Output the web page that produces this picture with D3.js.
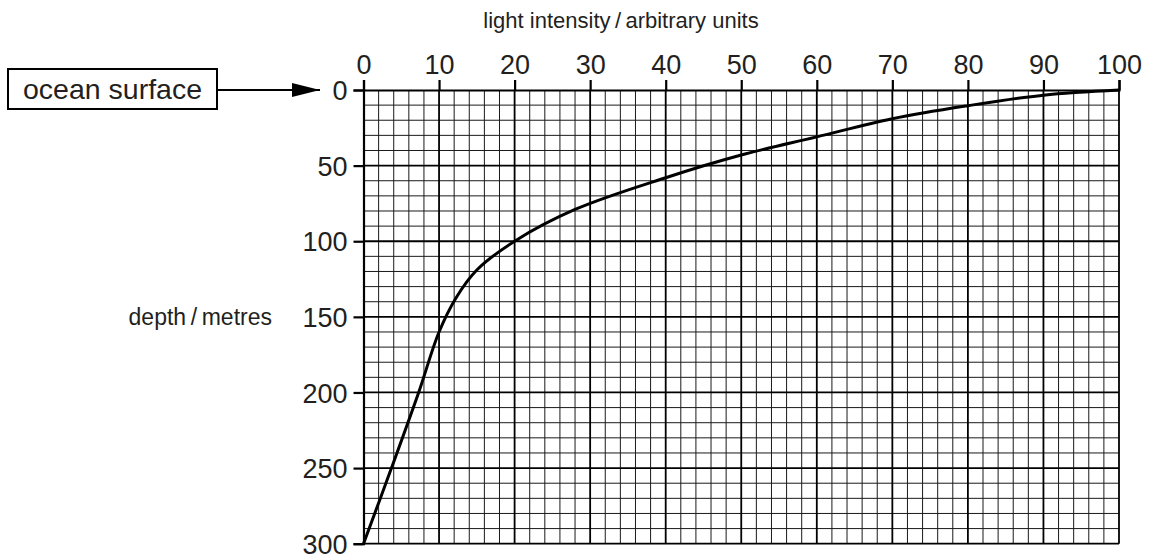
<!DOCTYPE html>
<html>
<head>
<meta charset="utf-8">
<script src="https://cdn.jsdelivr.net/npm/d3@7"></script>
<style>
  body { margin: 0; background: #fff; }
  text { font-family: "Liberation Sans", Arial, sans-serif; fill: #231f20; }
</style>
</head>
<body>
<div id="chart"></div>
<script>
// light intensity (x) against depth (y)
var intensity = [0, 3.7, 7.3, 10, 12.3, 15, 20, 28, 40, 50, 60, 70, 80, 90, 100];
var depth = [300, 250, 200, 160, 137, 119, 100, 79, 58, 43, 31, 19, 10.4, 3.4, 0];

var xTicks = [0, 10, 20, 30, 40, 50, 60, 70, 80, 90, 100];
var yTicks = [0, 50, 100, 150, 200, 250, 300];

var svgWidth = 1150;
var svgHeight = 559;

var margin = { top: 90, left: 363.5 };
var width = 755.5;
var height = 453.7;

var svg = d3.select("#chart")
  .append("svg")
  .attr("width", svgWidth)
  .attr("height", svgHeight);

var chartGroup = svg.append("g")
  .attr("transform", `translate(${margin.left}, ${margin.top})`);

var xScale = d3.scaleLinear().domain([0, 100]).range([0, width]);
var yScale = d3.scaleLinear().domain([0, 300]).range([0, height]);

// graph paper: minor every 2 units / 10 m, major every 10 / 50
var minorX = d3.range(2, 100, 2).filter(d => d % 10 !== 0);
var minorY = d3.range(10, 300, 10).filter(d => d % 50 !== 0);

chartGroup.selectAll(".minor-x")
  .data(minorX)
  .enter()
  .append("line")
  .attr("x1", d => xScale(d)).attr("x2", d => xScale(d))
  .attr("y1", 0).attr("y2", height)
  .attr("stroke", "#1a1a1a")
  .attr("stroke-width", 1);

chartGroup.selectAll(".minor-y")
  .data(minorY)
  .enter()
  .append("line")
  .attr("x1", 0).attr("x2", width)
  .attr("y1", d => yScale(d)).attr("y2", d => yScale(d))
  .attr("stroke", "#1a1a1a")
  .attr("stroke-width", 1);

chartGroup.selectAll(".major-x")
  .data(xTicks.slice(1))
  .enter()
  .append("line")
  .attr("x1", d => xScale(d)).attr("x2", d => xScale(d))
  .attr("y1", 0).attr("y2", height)
  .attr("stroke", "#000")
  .attr("stroke-width", 1.8);

chartGroup.selectAll(".major-y")
  .data(yTicks.slice(1))
  .enter()
  .append("line")
  .attr("x1", 0).attr("x2", width)
  .attr("y1", d => yScale(d)).attr("y2", d => yScale(d))
  .attr("stroke", "#000")
  .attr("stroke-width", 1.8);

// axes along top and left
var topAxis = d3.axisTop(xScale)
  .tickValues(xTicks)
  .tickSize(10)
  .tickPadding(6)
  .tickFormat(d3.format("d"));

var leftAxis = d3.axisLeft(yScale)
  .tickValues(yTicks)
  .tickSize(10)
  .tickPadding(6)
  .tickFormat(d3.format("d"));

var xAxis = chartGroup.append("g").call(topAxis);
var yAxis = chartGroup.append("g").call(leftAxis);

[xAxis, yAxis].forEach(function (ax) {
  ax.select(".domain").attr("stroke", "#000").attr("stroke-width", 2.2);
  ax.selectAll(".tick line").attr("stroke", "#000").attr("stroke-width", 2.2);
  ax.selectAll(".tick text")
    .attr("fill", "#231f20")
    .style("font-size", "27px")
    .style("font-family", "'Liberation Sans', Arial, sans-serif");
});
yAxis.selectAll(".tick text").attr("dy", "0.36em");

// curve
var points = intensity.map((v, i) => [v, depth[i]]);
var line = d3.line()
  .x(d => xScale(d[0]))
  .y(d => yScale(d[1]))
  .curve(d3.curveCatmullRom.alpha(0.5));

chartGroup.append("path")
  .datum(points)
  .attr("d", line)
  .attr("fill", "none")
  .attr("stroke", "#000")
  .attr("stroke-width", 3)
  .attr("stroke-linejoin", "round");

// axis titles
svg.append("text")
  .attr("x", 621)
  .attr("y", 28)
  .attr("text-anchor", "middle")
  .style("font-size", "22px")
  .text("light intensity\u2009/\u2009arbitrary units");

svg.append("text")
  .attr("x", 272)
  .attr("y", yScale(150) + margin.top + 8)
  .attr("text-anchor", "end")
  .style("font-size", "23px")
  .text("depth\u2009/\u2009metres");

// ocean surface label with arrow
svg.append("defs").append("marker")
  .attr("id", "head")
  .attr("viewBox", "0 0 28 14")
  .attr("refX", 28).attr("refY", 7)
  .attr("markerWidth", 28).attr("markerHeight", 14)
  .attr("markerUnits", "userSpaceOnUse")
  .attr("orient", "auto")
  .append("path")
  .attr("d", "M0,0 L28,7 L0,14 Z")
  .attr("fill", "#000");

svg.append("rect")
  .attr("x", 8).attr("y", 69)
  .attr("width", 209).attr("height", 40)
  .attr("fill", "#fff")
  .attr("stroke", "#000")
  .attr("stroke-width", 2);

svg.append("text")
  .attr("x", 112.5)
  .attr("y", 99)
  .attr("text-anchor", "middle")
  .style("font-size", "28.5px")
  .text("ocean surface");

svg.append("line")
  .attr("x1", 217).attr("x2", 320)
  .attr("y1", 90).attr("y2", 90)
  .attr("stroke", "#000")
  .attr("stroke-width", 2)
  .attr("marker-end", "url(#head)");
</script>
</body>
</html>
